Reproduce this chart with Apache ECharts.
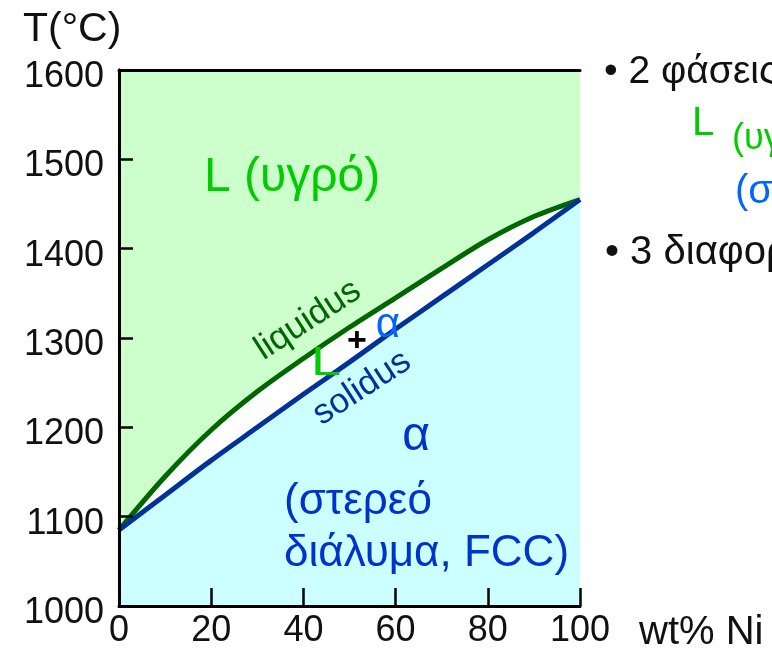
<!DOCTYPE html>
<html>
<head>
<meta charset="utf-8">
<script src="https://cdn.jsdelivr.net/npm/echarts@6/dist/echarts.min.js"></script>
<style>html,body{margin:0;padding:0;background:#fff}#c{width:772px;height:649px}</style>
</head>
<body>
<div id="c"></div>
<script>
// composition (wt% Ni)
const wtNi = [0, 10, 20, 30, 40, 50, 60, 70, 80, 90, 100];
// liquidus temperature (°C)
const liquidusT = [1085, 1145, 1197, 1240, 1277, 1312, 1345, 1378, 1410, 1436, 1455];
// solidus temperature (°C)
const solidusT = [1085, 1124, 1163, 1200, 1237, 1273, 1310, 1346, 1382, 1418, 1455];

const FONT = '"Liberation Sans", Arial, sans-serif';
const chart = echarts.init(document.getElementById('c'), null, {renderer: 'canvas'});

function pairs(xs, ys) { return xs.map((x, i) => [x, ys[i]]); }

const axisCommon = {
  axisLine: {show: true, lineStyle: {color: '#000', width: 3}},
  splitLine: {show: false},
  z: 10
};

chart.setOption({
  animation: false,
  grid: {left: 119, right: 192, top: 70, bottom: 39, show: true, backgroundColor: '#ccffcc', borderWidth: 0},
  xAxis: [
    Object.assign({}, axisCommon, {
      type: 'value', min: 0, max: 100, interval: 20, position: 'bottom',
      axisTick: {inside: true, length: 18, lineStyle: {color: '#000', width: 2.5}},
      axisLabel: {color: '#111', fontSize: 36, fontFamily: FONT, margin: 7, formatter: v => String(v)}
    }),
    Object.assign({}, axisCommon, {
      type: 'value', min: 0, max: 100, position: 'top',
      axisTick: {show: false}, axisLabel: {show: false}
    })
  ],
  yAxis: [
    Object.assign({}, axisCommon, {
      type: 'value', min: 1000, max: 1600, interval: 100, position: 'left',
      axisTick: {inside: true, length: 14, lineStyle: {color: '#000', width: 2.5}},
      axisLabel: {color: '#111', fontSize: 36, fontFamily: FONT, margin: 15, verticalAlign: 'top', lineHeight: 36, padding: [-11, 0, 0, 0], formatter: v => String(v)}
    }),
    Object.assign({}, axisCommon, {
      type: 'value', min: 1000, max: 1600, position: 'right',
      axisTick: {show: false}, axisLabel: {show: false}
    })
  ],
  series: [
    {
      name: 'liquidus', type: 'line', data: pairs(wtNi, liquidusT), smooth: 0.3,
      showSymbol: false, symbol: 'none', z: 2,
      lineStyle: {color: '#006600', width: 5},
      areaStyle: {color: '#ffffff', opacity: 1, origin: 'start'}
    },
    {
      name: 'solidus', type: 'line', data: pairs(wtNi, solidusT), smooth: 0.3,
      showSymbol: false, symbol: 'none', z: 3,
      lineStyle: {color: '#003399', width: 5},
      areaStyle: {color: '#ccffff', opacity: 1, origin: 'start'}
    }
  ],
  graphic: [
    {type: 'text', x: 23, y: 30, z: 20, style: {text: 'T(°C)', font: '41px ' + FONT, fill: '#111', verticalAlign: 'middle'}},
    {type: 'text', x: 639, y: 633, z: 20, style: {text: 'wt% Ni', font: '40px ' + FONT, fill: '#111', verticalAlign: 'middle'}},

    {type: 'text', x: 204, y: 178, z: 20, style: {text: 'L (υγρό)', font: '48px ' + FONT, fill: '#00cc00', verticalAlign: 'middle', align: 'left'}},
    {type: 'text', x: 416, y: 437, z: 20, style: {text: 'α', font: '48px ' + FONT, fill: '#0033cc', verticalAlign: 'middle', align: 'center'}},
    {type: 'text', x: 284, y: 502, z: 20, style: {text: '(στερεό', font: '44px ' + FONT, fill: '#0033cc', verticalAlign: 'middle', align: 'left'}},
    {type: 'text', x: 284, y: 554, z: 20, style: {text: 'διάλυμα, FCC)', font: '44px ' + FONT, fill: '#0033cc', verticalAlign: 'middle', align: 'left'}},

    {type: 'text', x: 308, y: 320, rotation: 33 * Math.PI / 180, z: 20, style: {text: 'liquidus', font: '35px ' + FONT, fill: '#006600', verticalAlign: 'middle', align: 'center'}},
    {type: 'text', x: 362, y: 388, rotation: 33 * Math.PI / 180, z: 20, style: {text: 'solidus', font: '35px ' + FONT, fill: '#003399', verticalAlign: 'middle', align: 'center'}},
    {type: 'text', x: 326, y: 364, scaleX: 1.35, z: 20, style: {text: 'L', font: '40px ' + FONT, fill: '#00cc00', verticalAlign: 'middle', align: 'center'}},
    {type: 'text', x: 357, y: 342, z: 20, style: {text: '+', font: 'bold 34px ' + FONT, fill: '#000', verticalAlign: 'middle', align: 'center'}},
    {type: 'text', x: 388, y: 325, z: 20, style: {text: 'α', font: '42px ' + FONT, fill: '#0066ff', verticalAlign: 'middle', align: 'center'}},

    {type: 'text', x: 604, y: 72, z: 20, style: {text: '• 2 φάσεις:', font: '39px ' + FONT, fill: '#111', verticalAlign: 'middle', align: 'left'}},
    {type: 'text', x: 692, y: 124, z: 20, style: {text: 'L', font: '40px ' + FONT, fill: '#00cc00', verticalAlign: 'middle', align: 'left'}},
    {type: 'text', x: 732, y: 139, z: 20, style: {text: '(υγρό)', font: '36px ' + FONT, fill: '#00cc00', verticalAlign: 'middle', align: 'left'}},
    {type: 'text', x: 735, y: 192, z: 20, style: {text: '(στερεό διάλυμα)', font: '40px ' + FONT, fill: '#0066ff', verticalAlign: 'middle', align: 'left'}},
    {type: 'text', x: 605, y: 253, z: 20, style: {text: '• 3 διαφορετικές περιοχές', font: '40px ' + FONT, fill: '#111', verticalAlign: 'middle', align: 'left'}}
  ]
});
</script>
</body>
</html>
